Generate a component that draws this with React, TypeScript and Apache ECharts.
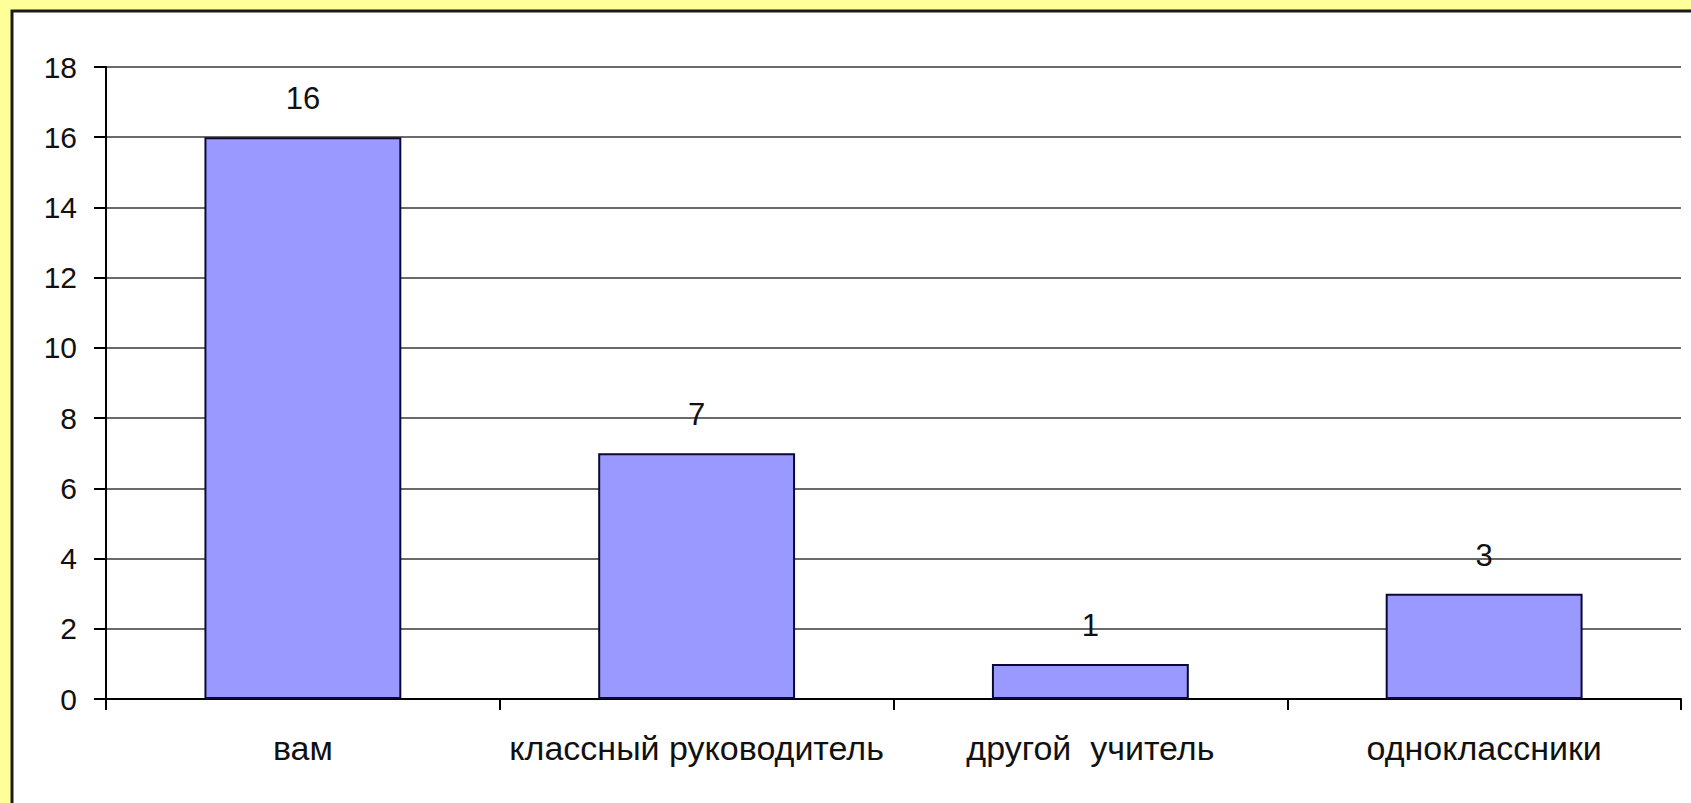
import React, { useEffect, useRef } from "react";
import * as echarts from "echarts";

const categories = ["вам", "классный руководитель", "другой  учитель", "одноклассники"];
const values = [16, 7, 1, 3];
const yTicks = { min: 0, max: 18, interval: 2 };

export default function App() {
  const ref = useRef<HTMLDivElement>(null);
  useEffect(() => {
    if (!ref.current) return;
    const chart = echarts.init(ref.current, null, { renderer: "svg" });
    const font = "'Liberation Sans', Arial, sans-serif";
    chart.setOption({
      animation: false,
      backgroundColor: "#FFFF99",
      textStyle: { fontFamily: font },
      graphic: [
        {
          type: "rect",
          z: -10,
          shape: { x: 12, y: 11, width: 1700, height: 800 },
          style: { fill: "#ffffff", stroke: "#1a1a1a", lineWidth: 3 },
        },
      ],
      grid: { left: 106, right: 10, top: 67, bottom: 104, containLabel: false },
      xAxis: {
        type: "category",
        data: categories,
        boundaryGap: true,
        axisLine: { show: true, lineStyle: { color: "#000", width: 2 } },
        axisTick: { show: true, alignWithLabel: false, length: 11, lineStyle: { color: "#000", width: 2 } },
        axisLabel: { color: "#111", fontSize: 34, fontFamily: font, margin: 32, interval: 0 },
        splitLine: { show: false },
      },
      yAxis: {
        type: "value",
        min: yTicks.min,
        max: yTicks.max,
        interval: yTicks.interval,
        axisLine: { show: true, lineStyle: { color: "#000", width: 2 } },
        axisTick: { show: true, length: 12, lineStyle: { color: "#000", width: 2 } },
        axisLabel: { color: "#111", fontSize: 30, fontFamily: font, margin: 29 },
        splitLine: { show: true, lineStyle: { color: "#6a6a6a", width: 2 } },
      },
      series: [
        {
          type: "bar",
          data: values,
          barWidth: "50%",
          itemStyle: { color: "#9999FF", borderColor: "#0a0a30", borderWidth: 2 },
          label: {
            show: true,
            position: "top",
            distance: 23,
            color: "#111",
            fontSize: 31,
            fontFamily: font,
          },
        },
      ],
    });
    return () => chart.dispose();
  }, []);
  return (
    <div
      ref={ref}
      style={{ position: "absolute", left: 0, top: 0, width: 1691, height: 803 }}
    />
  );
}
